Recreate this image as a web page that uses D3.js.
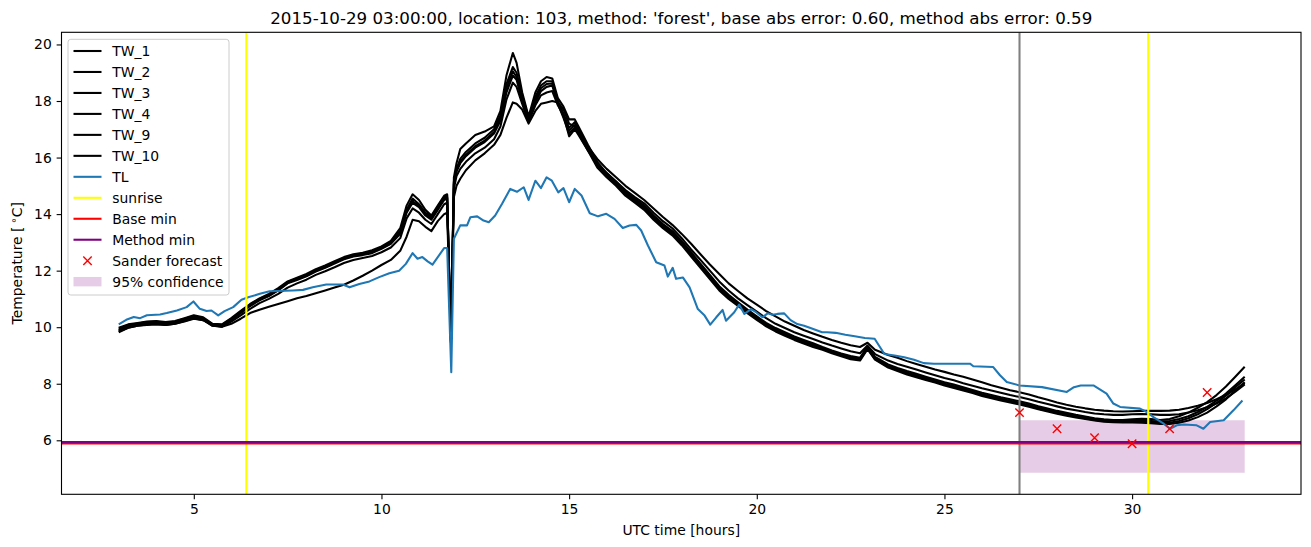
<!DOCTYPE html>
<html>
<head>
<meta charset="utf-8">
<style>
    body { margin: 0; background: #fff; }
    svg { display: block; font-family: 'DejaVu Sans', sans-serif; }
</style>
</head>
<body>
<script src="https://d3js.org/d3.v7.min.js"></script>
<script>
    // hours (UTC) shared by the water temperature loggers
    var twHours = [
        3, 3.25, 3.5, 3.75, 4, 4.25, 4.5, 4.75, 5, 5.25,
        5.5, 5.75, 6, 6.25, 6.5, 6.75, 7, 7.25, 7.5, 7.75,
        8, 8.25, 8.5, 8.75, 9, 9.25, 9.5, 9.75, 10, 10.25,
        10.5, 10.67, 10.83, 11, 11.17, 11.33, 11.5, 11.67, 11.75, 11.85,
        11.93, 12, 12.1, 12.25, 12.5, 12.75, 13, 13.17, 13.33, 13.5,
        13.6, 13.75, 13.92, 14.1, 14.25, 14.4, 14.55, 14.7, 14.85, 15,
        15.15, 15.25, 15.5, 15.75, 16, 16.25, 16.5, 16.75, 17, 17.25,
        17.5, 17.75, 18, 18.25, 18.5, 18.75, 19, 19.25, 19.5, 19.75,
        20, 20.25, 20.5, 20.75, 21, 21.25, 21.5, 21.75, 22, 22.25,
        22.5, 22.75, 22.95, 23.15, 23.5, 23.75, 24, 24.25, 24.5, 24.75,
        25, 25.25, 25.5, 25.75, 26, 26.25, 26.5, 26.75, 27, 27.25,
        27.5, 27.75, 28, 28.25, 28.5, 28.75, 29, 29.25, 29.5, 29.75,
        30, 30.25, 30.5, 30.75, 31, 31.25, 31.5, 31.75, 32, 32.25,
        32.5, 32.75, 33
    ];
    var tw1 = [
        9.98, 10.1, 10.15, 10.2, 10.22, 10.18, 10.22, 10.32, 10.42, 10.35,
        10.12, 10.1, 10.32, 10.58, 10.82, 11.02, 11.18, 11.38, 11.62, 11.75,
        11.88, 12.05, 12.18, 12.33, 12.48, 12.58, 12.63, 12.72, 12.86, 13.05,
        13.5, 14.3, 14.7, 14.5, 14.15, 13.95, 14.3, 14.65, 14.7, 9.6,
        15.3, 15.8, 16.3, 16.5, 16.8, 16.92, 17.1, 17.65, 18.9, 19.7,
        19.35, 18.3, 17.45, 18.3, 18.7, 18.85, 18.8, 18.1, 17.8, 17.35,
        17.35, 17.1, 16.45, 15.85, 15.45, 15.15, 14.8, 14.55, 14.3, 13.95,
        13.65, 13.4, 13.05, 12.65, 12.25, 11.85, 11.45, 11.15, 10.88, 10.62,
        10.38, 10.15, 9.97, 9.82, 9.67, 9.55, 9.43, 9.3, 9.18, 9.07,
        8.98, 8.92, 9.32, 8.95, 8.68, 8.56, 8.45, 8.35, 8.25, 8.15,
        8.05, 7.97, 7.88, 7.78, 7.68, 7.6, 7.52, 7.45, 7.38, 7.3,
        7.2, 7.12, 7.04, 6.97, 6.9, 6.84, 6.78, 6.74, 6.72, 6.72,
        6.74, 6.76, 6.75, 6.72, 6.75, 6.85, 6.98, 7.15, 7.35, 7.6,
        7.9, 8.25, 8.6
    ];
    var tw2 = [
        9.95, 10.08, 10.13, 10.18, 10.2, 10.15, 10.2, 10.3, 10.4, 10.32,
        10.1, 10.08, 10.3, 10.55, 10.8, 11.0, 11.15, 11.35, 11.6, 11.72,
        11.85, 12.02, 12.15, 12.3, 12.45, 12.55, 12.6, 12.68, 12.82, 13.0,
        13.4, 14.15, 14.55, 14.35, 14.05, 13.9, 14.25, 14.6, 14.65, 9.55,
        15.15, 15.6, 15.95, 16.2, 16.5, 16.7, 17.0, 17.5, 18.6, 19.2,
        19.0, 18.2, 17.4, 18.15, 18.55, 18.7, 18.7, 18.0, 17.55, 17.05,
        17.25, 17.0, 16.35, 15.75, 15.4, 15.1, 14.75, 14.5, 14.25, 13.9,
        13.6, 13.35, 13.0, 12.6, 12.2, 11.8, 11.4, 11.1, 10.83, 10.58,
        10.33, 10.1, 9.93, 9.77, 9.63, 9.5, 9.38, 9.26, 9.14, 9.03,
        8.94, 8.88, 9.28, 8.9, 8.63, 8.52, 8.4, 8.3, 8.2, 8.1,
        8.0, 7.92, 7.83, 7.73, 7.63, 7.55, 7.47, 7.4, 7.33, 7.25,
        7.15, 7.08, 7.0, 6.93, 6.87, 6.81, 6.75, 6.71, 6.7, 6.7,
        6.7, 6.7, 6.68, 6.66, 6.68, 6.75, 6.85, 7.0, 7.18, 7.4,
        7.65, 7.95, 8.25
    ];
    var tw3 = [
        9.9, 10.05, 10.1, 10.15, 10.17, 10.12, 10.18, 10.27, 10.37, 10.3,
        10.08, 10.05, 10.28, 10.52, 10.77, 10.97, 11.12, 11.32, 11.57, 11.7,
        11.82, 12.0, 12.12, 12.28, 12.42, 12.52, 12.58, 12.65, 12.8, 12.97,
        13.35, 14.1, 14.45, 14.3, 14.0, 13.85, 14.2, 14.55, 14.6, 9.5,
        15.1, 15.55, 15.85, 16.1, 16.4, 16.6, 16.9, 17.4, 18.45, 19.05,
        18.85, 18.1, 17.35, 18.05, 18.45, 18.6, 18.62, 17.95, 17.45, 16.95,
        17.15, 16.95, 16.3, 15.7, 15.35, 15.05, 14.7, 14.45, 14.2, 13.85,
        13.55, 13.3, 12.95, 12.55, 12.15, 11.75, 11.35, 11.05, 10.78, 10.55,
        10.3, 10.06, 9.88, 9.73, 9.58, 9.46, 9.35, 9.23, 9.11, 9.0,
        8.9, 8.85, 9.25, 8.87, 8.6, 8.48, 8.37, 8.26, 8.16, 8.07,
        7.97, 7.88, 7.79, 7.7, 7.6, 7.52, 7.44, 7.37, 7.3, 7.22,
        7.12, 7.05, 6.97, 6.9, 6.84, 6.78, 6.72, 6.68, 6.66, 6.66,
        6.66, 6.66, 6.64, 6.62, 6.62, 6.68, 6.78, 6.92, 7.1, 7.32,
        7.58, 7.88, 8.15
    ];
    var tw4 = [
        9.88, 10.02, 10.08, 10.12, 10.15, 10.1, 10.15, 10.25, 10.35, 10.27,
        10.05, 10.03, 10.25, 10.5, 10.75, 10.95, 11.1, 11.3, 11.55, 11.67,
        11.8, 11.97, 12.1, 12.25, 12.4, 12.5, 12.55, 12.62, 12.77, 12.95,
        13.3, 14.05, 14.4, 14.25, 13.95, 13.8, 14.15, 14.5, 14.55, 9.5,
        15.05, 15.5, 15.8, 16.05, 16.35, 16.55, 16.85, 17.3, 18.3, 18.9,
        18.75, 18.0, 17.3, 17.95, 18.35, 18.5, 18.55, 17.9, 17.4, 16.85,
        17.05, 16.85, 16.25, 15.65, 15.3, 15.0, 14.65, 14.4, 14.15, 13.8,
        13.5, 13.25, 12.9, 12.5, 12.1, 11.7, 11.3, 11.0, 10.75, 10.5,
        10.26, 10.03, 9.85, 9.7, 9.55, 9.42, 9.3, 9.2, 9.08, 8.97,
        8.87, 8.82, 9.22, 8.85, 8.57, 8.45, 8.33, 8.23, 8.13, 8.04,
        7.94, 7.85, 7.76, 7.67, 7.57, 7.49, 7.41, 7.34, 7.27, 7.19,
        7.1, 7.02, 6.94, 6.87, 6.81, 6.75, 6.7, 6.66, 6.64, 6.63,
        6.63, 6.62, 6.6, 6.58, 6.58, 6.62, 6.7, 6.82, 6.98, 7.2,
        7.45, 7.75, 8.05
    ];
    var tw9 = [
        9.82, 9.98, 10.05, 10.1, 10.12, 10.08, 10.12, 10.22, 10.32, 10.25,
        10.05, 10.02, 10.2, 10.42, 10.65, 10.85, 11.0, 11.18, 11.4, 11.55,
        11.68, 11.85, 11.98, 12.12, 12.27, 12.38, 12.45, 12.52, 12.65, 12.82,
        13.15, 13.85, 14.2, 14.05, 13.8, 13.65, 14.0, 14.35, 14.4, 9.45,
        14.9, 15.35, 15.6, 15.85, 16.15, 16.35, 16.65, 17.1, 18.05, 18.65,
        18.5, 17.9, 17.25, 17.85, 18.2, 18.3, 18.35, 17.85, 17.5, 16.75,
        17.0, 16.8, 16.25, 15.75, 15.45, 15.15, 14.85, 14.6, 14.38, 14.05,
        13.75, 13.5, 13.15, 12.75, 12.38, 12.0, 11.62, 11.3, 11.02, 10.78,
        10.55, 10.32, 10.12, 9.97, 9.82, 9.7, 9.58, 9.46, 9.35, 9.25,
        9.15, 9.08, 9.35, 9.05, 8.82, 8.7, 8.6, 8.5, 8.4, 8.3,
        8.2, 8.12, 8.02, 7.93, 7.84, 7.76, 7.68, 7.6, 7.53, 7.45,
        7.36, 7.28, 7.2, 7.12, 7.06, 7.0, 6.95, 6.92, 6.9, 6.9,
        6.92, 6.93, 6.92, 6.9, 6.9, 6.92, 6.98, 7.06, 7.17, 7.3,
        7.48, 7.72, 7.98
    ];
    var tw10 = [
        9.85, 9.98, 10.05, 10.08, 10.1, 10.08, 10.12, 10.2, 10.3, 10.25,
        10.08, 10.02, 10.12, 10.3, 10.5, 10.62, 10.72, 10.82, 10.92, 11.02,
        11.1, 11.2, 11.3, 11.4, 11.5, 11.65, 11.82, 12.0, 12.2, 12.38,
        12.7, 13.2, 13.8, 13.75, 13.55, 13.4, 13.75, 14.0, 14.05, 9.6,
        14.6, 15.0, 15.25, 15.55, 15.9, 16.15, 16.45, 16.8, 17.4, 17.95,
        17.9, 17.7, 17.2, 17.65, 17.9, 17.95, 18.0, 17.95, 17.7, 17.2,
        17.1, 16.95, 16.4, 15.95, 15.6, 15.3, 15.0, 14.75, 14.5, 14.2,
        13.9, 13.62, 13.3, 12.95, 12.58, 12.22, 11.88, 11.55, 11.28, 11.02,
        10.8, 10.57, 10.38, 10.2, 10.05, 9.9, 9.78, 9.66, 9.55, 9.45,
        9.36, 9.3, 9.45, 9.2, 9.02, 8.92, 8.8, 8.7, 8.6, 8.5,
        8.42, 8.33, 8.25, 8.15, 8.05, 7.95, 7.86, 7.77, 7.7, 7.62,
        7.52, 7.43, 7.34, 7.26, 7.19, 7.13, 7.08, 7.05, 7.03, 7.02,
        7.03, 7.04, 7.04, 7.04, 7.05, 7.08, 7.14, 7.22, 7.32, 7.45,
        7.6, 7.8, 8.02
    ];

    // air temperature (TL)
    var tlHours = [
        3.0, 3.2, 3.4, 3.57, 3.75, 4.1, 4.28, 4.55, 4.81, 4.99,
        5.16, 5.34, 5.47, 5.65, 5.82, 6.05, 6.27, 6.45, 6.76, 7.02,
        7.64, 7.91, 8.17, 8.53, 8.97, 9.15, 9.41, 9.68, 9.94, 10.21,
        10.47, 10.65, 10.83, 10.96, 11.09, 11.23, 11.36, 11.67, 11.75, 11.86,
        11.93, 12.1, 12.28, 12.37, 12.55, 12.72, 12.86, 13.03, 13.21, 13.43,
        13.61, 13.79, 13.92, 14.1, 14.25, 14.4, 14.54, 14.71, 14.85, 15.0,
        15.15, 15.33, 15.55, 15.77, 15.99, 16.21, 16.43, 16.61, 16.79, 16.92,
        17.1, 17.32, 17.54, 17.63, 17.76, 17.85, 18.03, 18.21, 18.43, 18.61,
        18.76, 18.92, 19.09, 19.18, 19.4, 19.53, 19.67, 19.85, 19.98, 20.15,
        20.29, 20.42, 20.55, 20.73, 20.9, 21.08, 21.26, 21.43, 21.74, 21.87,
        22.1, 22.36, 22.61, 22.88, 23.14, 23.4, 23.67, 23.93, 24.19, 24.45,
        24.72, 25.15, 25.68, 25.77, 26.3, 26.48, 26.66, 27.0, 27.6, 28.26,
        28.45, 28.63, 28.97, 29.32, 29.5, 29.68, 30.21, 30.39, 30.57, 30.83,
        31.01, 31.19, 31.37, 31.72, 31.9, 32.08, 32.44, 32.7, 32.94
    ];
    var tlValues = [
        10.1, 10.26, 10.36, 10.32, 10.42, 10.45, 10.5, 10.59, 10.71, 10.91,
        10.65, 10.57, 10.59, 10.42, 10.57, 10.71, 10.97, 11.06, 11.18, 11.27,
        11.3, 11.32, 11.41, 11.51, 11.51, 11.41, 11.53, 11.62, 11.77, 11.91,
        12.0, 12.24, 12.62, 12.42, 12.48, 12.33, 12.21, 12.8, 12.8, 8.41,
        13.13, 13.6, 13.6, 13.89, 13.92, 13.77, 13.71, 13.95, 14.36, 14.89,
        14.79, 14.95, 14.5, 15.18, 14.92, 15.3, 15.18, 14.77, 14.92, 14.42,
        14.89, 14.66, 14.03, 13.92, 14.01, 13.83, 13.51, 13.6, 13.62, 13.42,
        12.89, 12.3, 12.18, 11.79, 12.1, 11.71, 11.76, 11.41, 10.64, 10.41,
        10.09, 10.35, 10.61, 10.23, 10.53, 10.8, 10.47, 10.64, 10.53, 10.35,
        10.49, 10.44, 10.47, 10.49, 10.25, 10.11, 10.05, 9.97, 9.82, 9.82,
        9.8, 9.73, 9.68, 9.62, 9.59, 9.05, 9.0, 8.94, 8.85, 8.73,
        8.71, 8.71, 8.71, 8.62, 8.59, 8.3, 8.06, 7.94, 7.88, 7.71,
        7.88, 7.94, 7.94, 7.65, 7.3, 7.18, 7.12, 7.0, 6.82, 6.6,
        6.41, 6.53, 6.56, 6.53, 6.41, 6.65, 6.71, 7.06, 7.41
    ];

    var twNames = ['TW_1', 'TW_2', 'TW_3', 'TW_4', 'TW_9', 'TW_10'];
    var twSeries = [tw1, tw2, tw3, tw4, tw9, tw10];

    var sunrise = [6.4, 30.43];
    var nowHour = 27;
    var baseMin = 5.89;
    var methodMin = 5.935;
    var forecastHours = [27, 28, 29, 30, 31, 32];
    var forecastValues = [6.98, 6.41, 6.09, 5.88, 6.41, 7.69];
    var confHours = [27, 33];
    var confLow = [4.85, 4.85];
    var confHigh = [6.71, 6.71];

    var xTicks = [5, 10, 15, 20, 25, 30];
    var yTicks = [6, 8, 10, 12, 14, 16, 18, 20];

    var titleText = "2015-10-29 03:00:00, location: 103, method: 'forest', base abs error: 0.60, method abs error: 0.59";

    var margin = {left: 61.5, top: 32.3, right: 10, bottom: 52.7},
        width = 1311 - margin.left - margin.right,
        height = 547 - margin.top - margin.bottom;
    var lw = 2.08, fs = 13.9;

    var root = d3.select('body').append('svg')
        .attr('width', 1311)
        .attr('height', 547)
        .style('font-size', fs + 'px');
    root.append('rect').attr('width', 1311).attr('height', 547).attr('fill', '#fff');

    var svg = root.append('g')
        .attr('transform', 'translate(' + [margin.left, margin.top] + ')');

    var x = d3.scaleLinear().domain([1.475, 34.5]).range([0, width]);
    var y = d3.scaleLinear().domain([4.09, 20.43]).range([height, 0]);

    svg.append('clipPath').attr('id', 'clip')
        .append('rect').attr('width', width).attr('height', height);
    var plot = svg.append('g').attr('clip-path', 'url(#clip)');

    // confidence band (drawn under the lines)
    var band = confHours.map((h, i) => ({h: h, lo: confLow[i], hi: confHigh[i]}));
    plot.append('path')
        .datum(band)
        .attr('d', d3.area().x(d => x(d.h)).y0(d => y(d.lo)).y1(d => y(d.hi)))
        .attr('fill', 'purple')
        .attr('fill-opacity', 0.2);

    var line = d3.line()
        .x(d => x(d[0]))
        .y(d => y(d[1]));

    twSeries.forEach(vals => {
        var pts = twHours.map((h, i) => [h, vals[i]]).filter(d => d[1] != null);
        plot.append('path')
            .datum(pts)
            .attr('d', line)
            .attr('fill', 'none')
            .attr('stroke', 'black')
            .attr('stroke-width', lw)
            .attr('stroke-linejoin', 'round');
    });

    plot.append('path')
        .datum(tlHours.map((h, i) => [h, tlValues[i]]))
        .attr('d', line)
        .attr('fill', 'none')
        .attr('stroke', '#1f77b4')
        .attr('stroke-width', lw)
        .attr('stroke-linejoin', 'round');

    plot.selectAll('line.sunrise')
        .data(sunrise)
        .enter().append('line')
        .attr('class', 'sunrise')
        .attr('x1', d => x(d)).attr('x2', d => x(d))
        .attr('y1', 0).attr('y2', height)
        .attr('stroke', 'yellow')
        .attr('stroke-width', lw);

    plot.append('line')
        .attr('x1', x(nowHour)).attr('x2', x(nowHour))
        .attr('y1', 0).attr('y2', height)
        .attr('stroke', 'gray')
        .attr('stroke-width', lw);

    [[baseMin, 'red'], [methodMin, 'purple']].forEach(d => {
        plot.append('line')
            .attr('x1', 0).attr('x2', width)
            .attr('y1', y(d[0])).attr('y2', y(d[0]))
            .attr('stroke', d[1])
            .attr('stroke-width', lw);
    });

    var cross = 'M-4.2,-4.2L4.2,4.2M-4.2,4.2L4.2,-4.2';
    plot.selectAll('path.fc')
        .data(forecastHours.map((h, i) => [h, forecastValues[i]]))
        .enter().append('path')
        .attr('class', 'fc')
        .attr('d', cross)
        .attr('transform', d => 'translate(' + [x(d[0]), y(d[1])] + ')')
        .attr('stroke', 'red')
        .attr('stroke-width', 1.4)
        .attr('fill', 'none');

    // axes
    var xAxis = svg.append('g')
        .attr('transform', 'translate(0,' + height + ')')
        .call(d3.axisBottom(x).tickValues(xTicks).tickSize(4.86).tickPadding(4.86).tickFormat(d3.format('d')));
    var yAxis = svg.append('g')
        .call(d3.axisLeft(y).tickValues(yTicks).tickSize(4.86).tickPadding(4.86).tickFormat(d3.format('d')));
    [xAxis, yAxis].forEach(a => {
        a.select('.domain').remove();
        a.selectAll('line').attr('stroke', 'black').attr('stroke-width', 1.1);
        a.selectAll('text').attr('fill', 'black').style('font-size', fs + 'px')
            .style('font-family', "'DejaVu Sans', sans-serif");
    });

    svg.append('rect')
        .attr('width', width).attr('height', height)
        .attr('fill', 'none').attr('stroke', 'black').attr('stroke-width', 1.1);

    // labels
    root.append('text')
        .attr('x', margin.left + width / 2).attr('y', 24)
        .attr('text-anchor', 'middle')
        .style('font-size', '16.7px')
        .text(titleText);
    root.append('text')
        .attr('x', margin.left + width / 2).attr('y', 535)
        .attr('text-anchor', 'middle')
        .text('UTC time [hours]');
    var yl = root.append('text')
        .attr('transform', 'translate(22,' + (margin.top + height / 2) + ') rotate(-90)')
        .attr('text-anchor', 'middle');
    yl.append('tspan').text('Temperature [');
    yl.append('tspan').attr('dx', 3).attr('dy', -5).style('font-size', '10px').text('\u2218');
    yl.append('tspan').attr('dy', 5).text('C]');

    // legend
    var entries = twNames.map(n => ({name: n, type: 'line', color: 'black'}))
        .concat([
            {name: 'TL', type: 'line', color: '#1f77b4'},
            {name: 'sunrise', type: 'line', color: 'yellow'},
            {name: 'Base min', type: 'line', color: 'red'},
            {name: 'Method min', type: 'line', color: 'purple'},
            {name: 'Sander forecast', type: 'marker', color: 'red'},
            {name: '95% confidence', type: 'patch', color: 'purple'}
        ]);
    var legend = root.append('g').attr('transform', 'translate(68,39.3)');
    legend.append('rect')
        .attr('width', 161).attr('height', 255.7)
        .attr('rx', 2.8)
        .attr('fill', 'white').attr('fill-opacity', 0.8)
        .attr('stroke', '#cccccc').attr('stroke-width', 1);
    var items = legend.selectAll('g.item')
        .data(entries)
        .enter().append('g')
        .attr('class', 'item')
        .attr('transform', (d, i) => 'translate(0,' + (11.7 + i * 20.97) + ')');
    items.filter(d => d.type == 'line').append('line')
        .attr('x1', 5.5).attr('x2', 33.5)
        .attr('stroke', d => d.color).attr('stroke-width', lw);
    items.filter(d => d.type == 'marker').append('path')
        .attr('d', cross)
        .attr('transform', 'translate(19.5,0)')
        .attr('stroke', d => d.color).attr('stroke-width', 1.4).attr('fill', 'none');
    items.filter(d => d.type == 'patch').append('rect')
        .attr('x', 5.5).attr('y', -4.7).attr('width', 28).attr('height', 9.4)
        .attr('fill', d => d.color).attr('fill-opacity', 0.2);
    items.append('text')
        .attr('x', 44.3).attr('dy', '0.36em')
        .text(d => d.name);
</script>
</body>
</html>
